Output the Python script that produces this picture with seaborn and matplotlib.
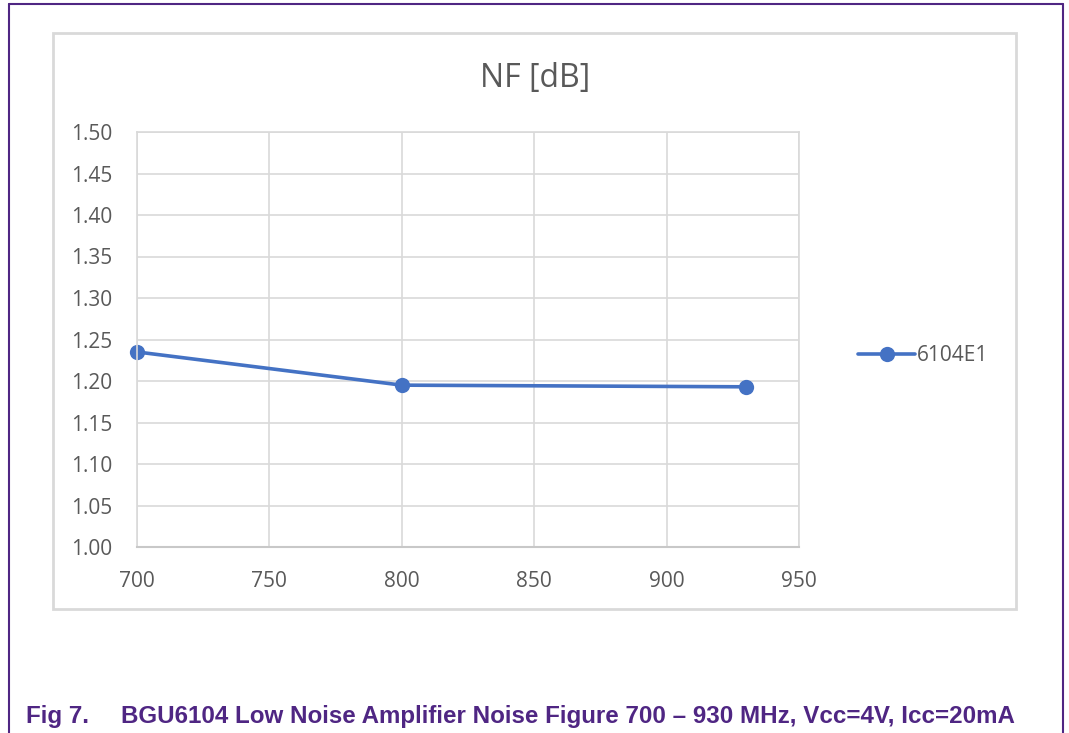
import matplotlib
matplotlib.use("Agg")
import matplotlib.pyplot as plt
import seaborn as sns
import pandas as pd
from matplotlib.patches import Rectangle
from matplotlib.lines import Line2D

# Measured noise figure of the BGU6104 LNA
freq_mhz = [700, 800, 930]
nf_db = [1.235, 1.195, 1.193]
series_name = "6104E1"

x_ticks = [700, 750, 800, 850, 900, 950]
y_ticks = [1.00, 1.05, 1.10, 1.15, 1.20, 1.25, 1.30, 1.35, 1.40, 1.45, 1.50]

chart_title = "NF [dB]"
caption_num = "Fig 7."
caption_text = "BGU6104 Low Noise Amplifier Noise Figure 700 \u2013 930 MHz, Vcc=4V, Icc=20mA"

W, H = 1069, 733
sns.set_theme(style="white")
plt.rcParams["font.family"] = ["Open Sans", "DejaVu Sans"]

fig = plt.figure(figsize=(W / 100, H / 100), dpi=100)
fig.patch.set_facecolor("white")

def fx(px):
    return px / W

def fy(py):
    return 1 - py / H

# outer purple frame of the page
purple = "#4F2683"
fig.add_artist(Line2D([fx(9), fx(9)], [fy(4), 0], color=purple, lw=1.5))
fig.add_artist(Line2D([fx(1063), fx(1063)], [fy(4), 0], color=purple, lw=1.5))
fig.add_artist(Line2D([fx(9), fx(1063)], [fy(4), fy(4)], color=purple, lw=1.5))

# chart area border
fig.add_artist(Rectangle((fx(53), fy(609)), fx(1016) - fx(53), fy(33) - fy(609),
                         transform=fig.transFigure, fill=False,
                         edgecolor="#D9D9D9", lw=2))

ax = fig.add_axes([fx(137), fy(547), fx(799) - fx(137), fy(132) - fy(547)])
df = pd.DataFrame({"freq": freq_mhz, "nf": nf_db, "series": series_name})
sns.lineplot(data=df, x="freq", y="nf", hue="series", palette=["#4472C4"],
             marker="o", markersize=11, markeredgewidth=0, linewidth=2.6,
             ax=ax, legend=True)
for ln in ax.get_lines():
    ln.set_clip_on(False)

ax.set_xlim(700, 950)
ax.set_ylim(1.0, 1.5)
ax.set_xticks(x_ticks)
ax.set_yticks(y_ticks)
ax.set_xticklabels([str(v) for v in x_ticks])
ax.set_yticklabels([f"{v:.2f}" for v in y_ticks])
ax.set_xlabel("")
ax.set_ylabel("")
ax.grid(True, color="#D9D9D9", lw=1.2)
ax.set_axisbelow(True)
for side in ["left", "top", "right"]:
    ax.spines[side].set_color("#D9D9D9")
    ax.spines[side].set_linewidth(1.2)
ax.spines["bottom"].set_color("#C8C8C8")
ax.spines["bottom"].set_linewidth(1.5)
ax.tick_params(axis="both", length=0, labelsize=15, labelcolor="#595959")
ax.tick_params(axis="x", pad=17)
ax.tick_params(axis="y", pad=18)

fig.text(fx(535), fy(79), chart_title, ha="center", va="center",
         fontsize=23, color="#595959")

handles, labels = ax.get_legend_handles_labels()
ax.legend(handles, labels, loc="center left",
          bbox_to_anchor=(fx(848), fy(356)), bbox_transform=fig.transFigure,
          frameon=False, fontsize=15, labelcolor="#595959",
          handlelength=2.7, handletextpad=0.1, borderpad=0)

fig.text(fx(26), fy(716), caption_num, ha="left", va="center",
         fontsize=17.4, fontweight="bold", color=purple, family="Liberation Sans")
fig.text(fx(121), fy(716), caption_text, ha="left", va="center",
         fontsize=17.4, fontweight="bold", color=purple, family="Liberation Sans")

fig.savefig("out.png", dpi=100, facecolor="white")
